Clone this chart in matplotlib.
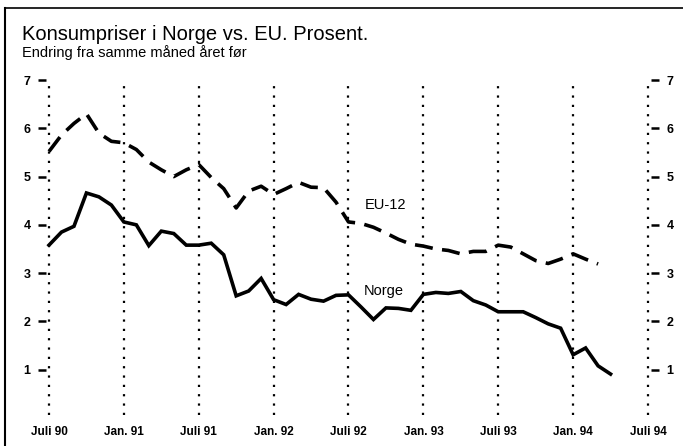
import matplotlib
matplotlib.use('Agg')
import matplotlib.pyplot as plt
from matplotlib.lines import Line2D

plt.rcParams['font.family'] = ['Liberation Sans', 'DejaVu Sans']

# months since Juli 90
tick_months = [0, 6, 12, 18, 24, 30, 36, 42, 48]
tick_labels = ['Juli 90', 'Jan. 91', 'Juli 91', 'Jan. 92', 'Juli 92',
               'Jan. 93', 'Juli 93', 'Jan. 94', 'Juli 94']
y_ticks = [1, 2, 3, 4, 5, 6, 7]

# Norge, Jul 90 - Apr 94
norge = [3.58, 3.85, 3.97, 4.66, 4.58, 4.41, 4.06, 4.0, 3.57, 3.87, 3.82, 3.58,
         3.58, 3.62, 3.38, 2.53, 2.63, 2.89, 2.45, 2.35, 2.56, 2.46, 2.42, 2.54,
         2.55, 2.3, 2.04, 2.28, 2.27, 2.23, 2.56, 2.6, 2.58, 2.62, 2.43, 2.34,
         2.2, 2.2, 2.2, 2.08, 1.95, 1.86, 1.31, 1.45, 1.08, 0.91]
# EU-12, Jul 90 - Mar 94
eu12 = [5.52, 5.86, 6.1, 6.3, 5.9, 5.73, 5.7, 5.56, 5.3, 5.14, 5.0, 5.14,
        5.25, 4.98, 4.75, 4.35, 4.7, 4.8, 4.63, 4.75, 4.88, 4.78, 4.77, 4.47,
        4.06, 4.03, 3.95, 3.83, 3.7, 3.6, 3.56, 3.5, 3.47, 3.4, 3.45, 3.45,
        3.58, 3.54, 3.4, 3.26, 3.2, 3.29, 3.4, 3.29, 3.19]

W, H = 683, 446
fig = plt.figure(figsize=(W / 100, H / 100), dpi=100)
ax = fig.add_axes([46 / W, (H - 418) / H, 605 / W, 338 / H])
ax.set_xlim(-0.24, 48.24)
ax.set_ylim(0, 7)
for s in ax.spines.values():
    s.set_visible(False)

# dotted verticals
for m in tick_months:
    ax.axvline(m, ymin=0.01, ymax=1.0, color='black', lw=1.6,
               linestyle=(0, (1, 3.2)), dash_capstyle='butt')

ax.plot(range(len(norge)), norge, color='black', lw=2.6, solid_joinstyle='miter')
ax.plot(range(len(eu12)), eu12, color='black', lw=2.6,
        linestyle=(0, (5, 2.6)), dash_capstyle='butt')

ax.text(25.3, 4.42, 'EU-12', fontsize=10.5, va='center', ha='left')
ax.text(25.2, 2.63, 'Norge', fontsize=10.5, va='center', ha='left')

ax.set_yticks(y_ticks)
ax.set_yticklabels([str(v) for v in y_ticks], fontweight='bold', fontsize=9)
ax.tick_params(axis='y', which='both', left=True, right=True,
               labelleft=True, labelright=True, length=6, width=1.8,
               direction='out', pad=5)
ax.set_xticks(tick_months)
ax.set_xticklabels(tick_labels, fontweight='bold', fontsize=8.5)
ax.tick_params(axis='x', length=0, pad=6)

fig.text(22 / W, 1 - 40 / H, 'Konsumpriser i Norge vs. EU. Prosent.',
         fontsize=14.5, va='baseline', ha='left')
fig.text(22 / W, 1 - 57 / H, 'Endring fra samme måned året før',
         fontsize=10.5, va='baseline', ha='left')

# frame lines (left and top)
fig.add_artist(Line2D([5 / W, 5 / W], [0, 1 - 8 / H], transform=fig.transFigure,
                      color='black', lw=1.5))
fig.add_artist(Line2D([5 / W, 1], [1 - 8 / H, 1 - 8 / H], transform=fig.transFigure,
                      color='black', lw=1.2))

fig.savefig('out.png', dpi=100)
